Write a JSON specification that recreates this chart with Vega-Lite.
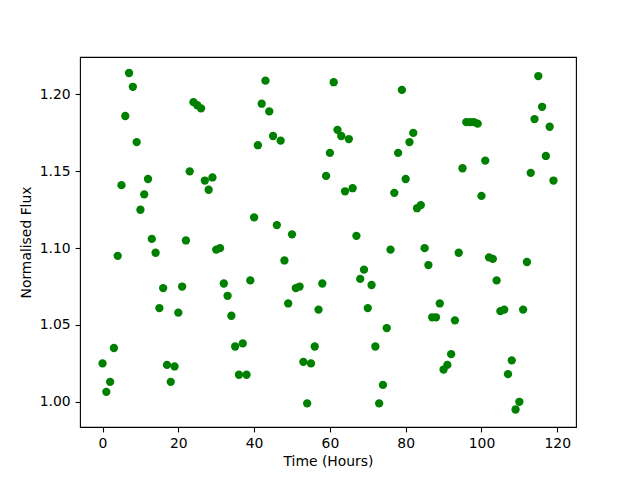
{
  "$schema": "https://vega.github.io/schema/vega-lite/v6.json",
  "width": 496,
  "height": 370,
  "autosize": {"type": "none"},
  "padding": {"left": 80, "top": 57, "right": 64, "bottom": 53},
  "background": "white",
  "config": {
    "view": {"stroke": "black", "strokeWidth": 1.1},
    "font": "DejaVu Sans",
    "axis": {
      "grid": false,
      "domain": false,
      "tickColor": "black",
      "tickSize": 4.9,
      "tickWidth": 1.1,
      "labelColor": "black",
      "labelFont": "DejaVu Sans",
      "labelFontSize": 13.9,
      "titleFont": "DejaVu Sans",
      "titleFontSize": 13.9,
      "titleFontWeight": "normal",
      "titleColor": "black",
      "labelPadding": 4.9
    }
  },
  "data": {
    "values": [
      {"t": 0, "flux": 1.025}, {"t": 1, "flux": 1.0065}, {"t": 2, "flux": 1.013}, {"t": 3, "flux": 1.035},
      {"t": 4, "flux": 1.095}, {"t": 5, "flux": 1.141}, {"t": 6, "flux": 1.186}, {"t": 7, "flux": 1.214},
      {"t": 8, "flux": 1.205}, {"t": 9, "flux": 1.169}, {"t": 10, "flux": 1.125}, {"t": 11, "flux": 1.135},
      {"t": 12, "flux": 1.145}, {"t": 13, "flux": 1.106}, {"t": 14, "flux": 1.097}, {"t": 15, "flux": 1.061},
      {"t": 16, "flux": 1.074}, {"t": 17, "flux": 1.024}, {"t": 18, "flux": 1.013}, {"t": 19, "flux": 1.023},
      {"t": 20, "flux": 1.058}, {"t": 21, "flux": 1.075}, {"t": 22, "flux": 1.105}, {"t": 23, "flux": 1.150},
      {"t": 24, "flux": 1.195}, {"t": 25, "flux": 1.193}, {"t": 26, "flux": 1.191}, {"t": 27, "flux": 1.144},
      {"t": 28, "flux": 1.138}, {"t": 29, "flux": 1.146}, {"t": 30, "flux": 1.099}, {"t": 31, "flux": 1.100},
      {"t": 32, "flux": 1.077}, {"t": 33, "flux": 1.069}, {"t": 34, "flux": 1.056}, {"t": 35, "flux": 1.036},
      {"t": 36, "flux": 1.0176}, {"t": 37, "flux": 1.038}, {"t": 38, "flux": 1.0176}, {"t": 39, "flux": 1.079},
      {"t": 40, "flux": 1.120}, {"t": 41, "flux": 1.167}, {"t": 42, "flux": 1.194}, {"t": 43, "flux": 1.209},
      {"t": 44, "flux": 1.189}, {"t": 45, "flux": 1.173}, {"t": 46, "flux": 1.115}, {"t": 47, "flux": 1.170},
      {"t": 48, "flux": 1.092}, {"t": 49, "flux": 1.064}, {"t": 50, "flux": 1.109}, {"t": 51, "flux": 1.074},
      {"t": 52, "flux": 1.075}, {"t": 53, "flux": 1.026}, {"t": 54, "flux": 0.999}, {"t": 55, "flux": 1.025},
      {"t": 56, "flux": 1.036}, {"t": 57, "flux": 1.060}, {"t": 58, "flux": 1.077}, {"t": 59, "flux": 1.147},
      {"t": 60, "flux": 1.162}, {"t": 61, "flux": 1.208}, {"t": 62, "flux": 1.177}, {"t": 63, "flux": 1.173},
      {"t": 64, "flux": 1.137}, {"t": 65, "flux": 1.171}, {"t": 66, "flux": 1.139}, {"t": 67, "flux": 1.108},
      {"t": 68, "flux": 1.080}, {"t": 69, "flux": 1.086}, {"t": 70, "flux": 1.061}, {"t": 71, "flux": 1.076},
      {"t": 72, "flux": 1.036}, {"t": 73, "flux": 0.999}, {"t": 74, "flux": 1.011}, {"t": 75, "flux": 1.048},
      {"t": 76, "flux": 1.099}, {"t": 77, "flux": 1.136}, {"t": 78, "flux": 1.162}, {"t": 79, "flux": 1.203},
      {"t": 80, "flux": 1.145}, {"t": 81, "flux": 1.169}, {"t": 82, "flux": 1.175}, {"t": 83, "flux": 1.126},
      {"t": 84, "flux": 1.128}, {"t": 85, "flux": 1.100}, {"t": 86, "flux": 1.089}, {"t": 87, "flux": 1.055},
      {"t": 88, "flux": 1.055}, {"t": 89, "flux": 1.064}, {"t": 90, "flux": 1.021}, {"t": 91, "flux": 1.024},
      {"t": 92, "flux": 1.031}, {"t": 93, "flux": 1.053}, {"t": 94, "flux": 1.097}, {"t": 95, "flux": 1.152},
      {"t": 96, "flux": 1.182}, {"t": 97, "flux": 1.182}, {"t": 98, "flux": 1.182}, {"t": 99, "flux": 1.181},
      {"t": 100, "flux": 1.134}, {"t": 101, "flux": 1.157}, {"t": 102, "flux": 1.094}, {"t": 103, "flux": 1.093},
      {"t": 104, "flux": 1.079}, {"t": 105, "flux": 1.059}, {"t": 106, "flux": 1.060}, {"t": 107, "flux": 1.018},
      {"t": 108, "flux": 1.027}, {"t": 109, "flux": 0.995}, {"t": 110, "flux": 1.000}, {"t": 111, "flux": 1.060},
      {"t": 112, "flux": 1.091}, {"t": 113, "flux": 1.149}, {"t": 114, "flux": 1.184}, {"t": 115, "flux": 1.212},
      {"t": 116, "flux": 1.192}, {"t": 117, "flux": 1.160}, {"t": 118, "flux": 1.179}, {"t": 119, "flux": 1.144}
    ]
  },
  "mark": {"type": "circle", "color": "#008000", "opacity": 1, "size": 69},
  "encoding": {
    "x": {
      "field": "t",
      "type": "quantitative",
      "title": "Time (Hours)",
      "scale": {"domain": [-5.95, 124.95], "nice": false, "zero": false},
      "axis": {"values": [0, 20, 40, 60, 80, 100, 120], "format": "d", "titlePadding": 4}
    },
    "y": {
      "field": "flux",
      "type": "quantitative",
      "title": "Normalised Flux",
      "scale": {"domain": [0.9836, 1.2244], "nice": false, "zero": false},
      "axis": {"values": [1.0, 1.05, 1.1, 1.15, 1.2], "format": ".2f", "titlePadding": 6}
    }
  }
}
